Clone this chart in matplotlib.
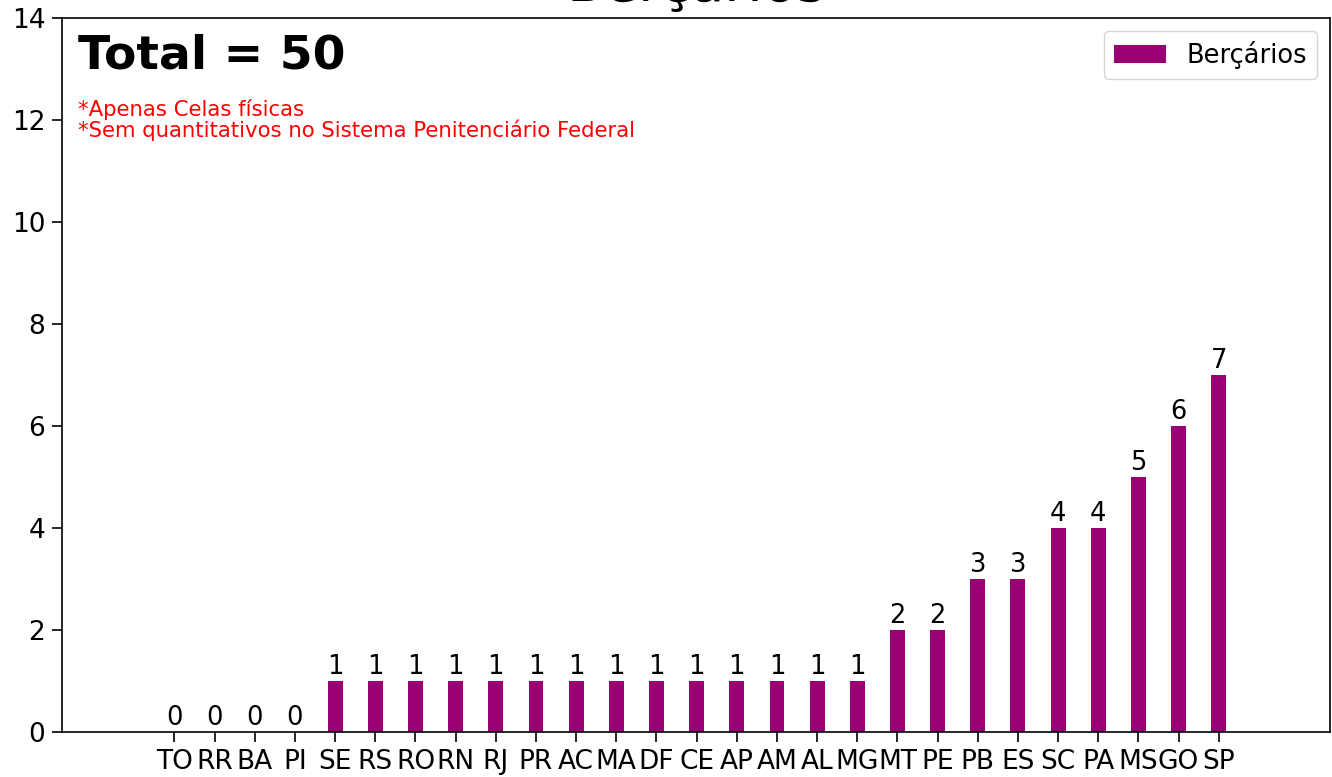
import matplotlib
matplotlib.use('Agg')
import matplotlib.pyplot as plt
import numpy as np

# bercarios por UF, ordenados do menor para o maior
ufs = ['TO', 'RR', 'BA', 'PI', 'SE', 'RS', 'RO', 'RN', 'RJ', 'PR', 'AC', 'MA', 'DF',
       'CE', 'AP', 'AM', 'AL', 'MG', 'MT', 'PE', 'PB', 'ES', 'SC', 'PA', 'MS', 'GO', 'SP']
bercarios = [0, 0, 0, 0, 1, 1, 1, 1, 1, 1, 1, 1, 1,
             1, 1, 1, 1, 1, 2, 2, 3, 3, 4, 4, 5, 6, 7]
notas = ['*Apenas Celas físicas', '*Sem quantitativos no Sistema Penitenciário Federal']

cor = '#990073'

fig = plt.figure(figsize=(13.32, 7.77), dpi=100)
ax = fig.add_subplot(111)
fig.subplots_adjust(left=62/1332, right=1330/1332, top=1-18/777, bottom=1-732/777)

x = np.arange(len(ufs))
barras = ax.bar(x, bercarios, width=0.37, color=cor, label='Berçários')
for b, v in zip(barras, bercarios):
    ax.text(b.get_x() + b.get_width()/2, v + 0.02, str(v), ha='center', va='bottom', fontsize=18.5)

ax.set_xticks(x)
ax.set_xticklabels(ufs, fontsize=19)
ax.tick_params(axis='y', labelsize=19)
ax.tick_params(length=7, width=1.2, pad=5)
ax.set_xlim(-2.8, 28.77)
ax.set_ylim(0, 14)
ax.set_yticks(range(0, 15, 2))

ax.set_title('Berçários', fontsize=40, pad=12.5)
ax.text(0.013, 0.978, 'Total = %d' % sum(bercarios), transform=ax.transAxes,
        fontsize=34, fontweight='bold', va='top', ha='left')
ax.text(0.013, 0.887, notas[0] + '\n' + notas[1], transform=ax.transAxes,
        fontsize=15.3, color='red', va='top', ha='left', linespacing=1.0)

ax.legend(loc='upper right', fontsize=18.5, handlelength=2.0)

for s in ax.spines.values():
    s.set_linewidth(1.2)

fig.savefig('out.png', dpi=100)
